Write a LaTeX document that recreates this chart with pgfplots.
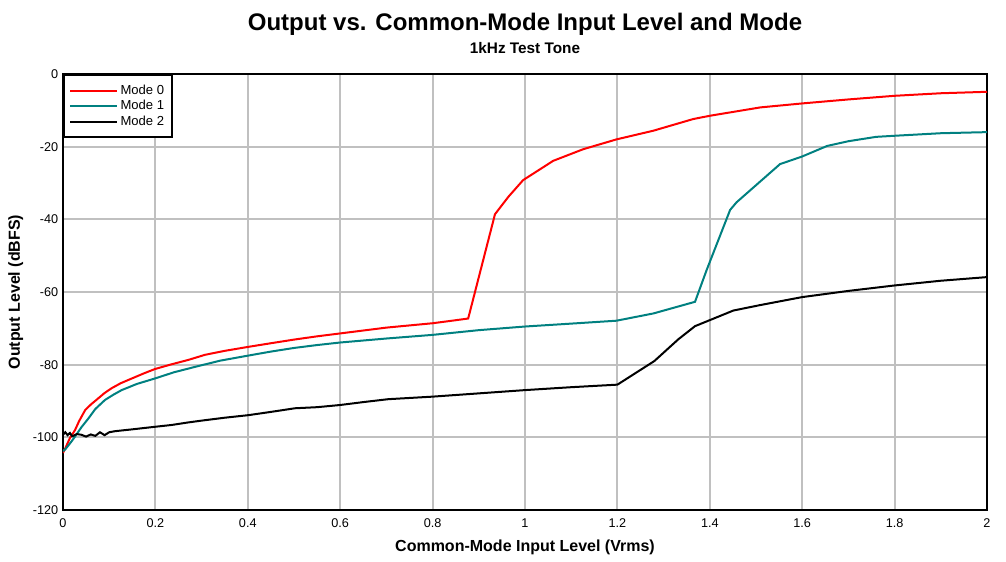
\documentclass[border=0pt]{standalone}
\usepackage{fontspec}
\setmainfont{Liberation Sans}
\usepackage{pgfplots}
\pgfplotsset{compat=1.18}
\definecolor{mteal}{RGB}{0,128,128}
\definecolor{gridgray}{RGB}{192,192,192}

\begin{document}
\begin{tikzpicture}[x=1pt,y=1pt]
  \useasboundingbox (-47.25,-38.25) rectangle (707.25,382.5);
  \begin{axis}[
      name=ax,
      at={(0,0)}, anchor=south west,
      scale only axis,
      width=693pt, height=327pt,
      xmin=0, xmax=2, ymin=-120, ymax=0,
      xtick={0,0.2,0.4,0.6,0.8,1,1.2,1.4,1.6,1.8,2},
      xticklabels={0,0.2,0.4,0.6,0.8,1,1.2,1.4,1.6,1.8,2},
      ytick={-120,-100,-80,-60,-40,-20,0},
      yticklabels={-120,-100,-80,-60,-40,-20,0},
      major tick length=0pt,
      grid=major,
      grid style={gridgray, line width=1.5pt},
      axis line style={black, line width=1.5pt},
      tick label style={font=\fontsize{9.5}{11}\selectfont},
      xticklabel style={yshift=-3pt},
      xlabel={\bfseries Common-Mode Input Level (Vrms)},
      ylabel={\bfseries Output Level (dBFS)},
      label style={font=\fontsize{12}{14}\selectfont},
      xlabel style={yshift=-2pt},
      ylabel style={yshift=0.5pt},
      legend style={at={(0,1)}, anchor=north west, draw=black, line width=1.3pt,
        font=\fontsize{9.8}{11}\selectfont, inner xsep=4pt, inner ysep=5.5pt,
        row sep=-1pt, cells={anchor=west}},
      legend image code/.code={\draw[#1, line width=1.5pt] (0pt,0pt) -- (35pt,0pt);},
      every axis plot/.append style={line width=1.5pt},
    ]
    \addplot[red] coordinates {
      (0,-104.3)(0.005,-103)(0.01,-101.6)(0.015,-100.2)(0.02,-99.2)(0.026,-98)(0.035,-95.5)
      (0.048,-92.5)(0.06,-91)(0.076,-89.3)(0.09,-87.8)(0.105,-86.5)(0.125,-85.1)(0.149,-83.8)
      (0.175,-82.4)(0.199,-81.2)(0.235,-79.9)(0.271,-78.7)(0.307,-77.3)(0.35,-76.2)(0.401,-75.1)
      (0.45,-74.1)(0.5,-73.1)(0.55,-72.2)(0.6,-71.4)(0.65,-70.6)(0.7,-69.8)(0.75,-69.2)
      (0.8,-68.6)(0.848,-67.8)(0.877,-67.3)(0.935,-38.6)(0.964,-33.8)(0.996,-29.2)
      (1.061,-23.9)(1.126,-20.7)(1.198,-18)(1.278,-15.6)(1.364,-12.4)(1.4,-11.5)
      (1.509,-9.2)(1.6,-8.1)(1.7,-7)(1.8,-6)(1.9,-5.3)(2,-4.9)
    };
    \addlegendentry{Mode 0}
    \addplot[mteal] coordinates {
      (0,-103.8)(0.005,-103.3)(0.01,-102.5)(0.018,-101.2)(0.026,-99.8)(0.04,-97.2)
      (0.055,-94.8)(0.07,-92.2)(0.091,-89.7)(0.11,-88.2)(0.127,-87)(0.16,-85.3)(0.199,-83.8)
      (0.24,-82.1)(0.286,-80.6)(0.34,-78.9)(0.401,-77.5)(0.45,-76.4)(0.5,-75.4)(0.55,-74.6)
      (0.6,-73.9)(0.7,-72.8)(0.8,-71.8)(0.9,-70.5)(1.0,-69.5)(1.1,-68.7)(1.198,-67.9)
      (1.278,-65.9)(1.368,-62.7)(1.393,-54)(1.444,-37.4)(1.458,-35.3)(1.509,-29.6)
      (1.552,-24.8)(1.6,-22.7)(1.654,-19.8)(1.7,-18.5)(1.76,-17.3)(1.8,-17)(1.9,-16.3)(2,-16)
    };
    \addlegendentry{Mode 1}
    \addplot[black] coordinates {
      (0,-99.3)(0.005,-98.6)(0.01,-99.4)(0.015,-98.8)(0.02,-99.7)(0.03,-99.1)(0.04,-99.3)
      (0.05,-99.8)(0.06,-99.2)(0.07,-99.6)(0.08,-98.6)(0.09,-99.4)(0.1,-98.6)(0.113,-98.3)
      (0.15,-97.8)(0.199,-97.1)(0.235,-96.6)(0.271,-95.9)(0.3,-95.4)(0.35,-94.6)(0.401,-93.9)
      (0.45,-93)(0.502,-92)(0.55,-91.7)(0.6,-91.1)(0.65,-90.3)(0.704,-89.5)(0.8,-88.8)
      (0.9,-87.9)(1.0,-87)(1.1,-86.2)(1.2,-85.5)(1.28,-79)(1.332,-73)(1.368,-69.4)
      (1.451,-65.1)(1.509,-63.6)(1.6,-61.4)(1.7,-59.7)(1.8,-58.2)(1.9,-56.9)(2,-55.9)
    };
    \addlegendentry{Mode 2}
  \end{axis}
  \node[font=\fontsize{18}{20}\selectfont\bfseries] at ([yshift=37.5pt]ax.north) {Output vs. Common-Mode Input Level and Mode};
  \node[font=\fontsize{11.5}{13}\selectfont\bfseries] at ([yshift=19.5pt]ax.north) {1kHz Test Tone};
\end{tikzpicture}
\end{document}
